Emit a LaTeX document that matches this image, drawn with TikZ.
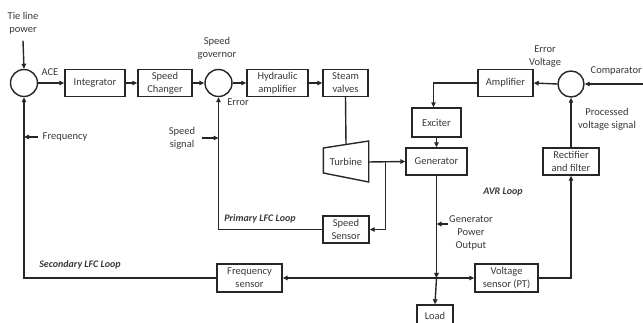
\documentclass[tikz,border=0pt]{standalone}
\usepackage{fontspec}
\setmainfont{Carlito}
\usetikzlibrary{positioning, calc, arrows.meta}

\tikzset{
  block/.style={draw, align=center, minimum height=27pt, inner sep=1pt},
  sumnode/.style={draw, circle, minimum size=27pt, inner sep=0pt},
  lbl/.style={align=center, inner sep=1pt},
  looplbl/.style={font=\bfseries\itshape, inner sep=1pt},
  >={Triangle[length=5pt,width=4.5pt]},
}

\begin{document}
\begin{tikzpicture}[x=1pt, y=-1pt, line width=1.4pt, draw=black!85, text=black!78,
    font=\fontsize{10.5}{13}\selectfont]
        \useasboundingbox (0,0) rectangle (643,323);

        % ==========================================
        % Secondary LFC chain (top row)
        % ==========================================
        \node[sumnode] (sum1) at (24,83) {};
        \node[block, minimum width=60pt] (integ) at (95,83) {Integrator};
        \node[block, minimum width=54pt] (spdch) at (165,83) {Speed\\Changer};
        \node[sumnode] (sum2) at (218.5,83) {};
        \node[block, minimum width=61pt] (hydamp) at (277.5,83) {Hydraulic\\amplifier};
        \node[block, minimum width=45pt] (valves) at (345.5,83) {Steam\\valves};

        \node[lbl] (tie) at (23,23) {Tie line\\power};
        \node[lbl] (ace) at (50,72) {ACE};
        \node[lbl] (gov) at (217,48) {Speed\\governor};
        \node[lbl] (err) at (238,102) {Error};

        \draw[->] (tie.south) ++(0,5) coordinate (tiein) -- (sum1.north);
        \draw[->] (sum1.east) -- (integ.west);
        \draw[->] (integ.east) -- (spdch.west);
        \draw[->] (spdch.east) -- (sum2.west);
        \draw[->] (sum2.east) -- (hydamp.west);
        \draw[->] (hydamp.east) -- (valves.west);

        % ==========================================
        % Turbine, Generator and Primary LFC Loop
        % ==========================================
        \node[lbl, minimum width=44pt, minimum height=34pt] (turb) at (346,162) {Turbine};
        \coordinate (tb1) at ($(turb.west)+(0,-14)$);
        \coordinate (tb2) at ($(turb.east)+(0,-21)$);
        \coordinate (tb3) at ($(turb.east)+(0,20)$);
        \coordinate (tb4) at ($(turb.west)+(0,11)$);
        \draw (tb1) -- (tb2) -- (tb3) -- (tb4) -- cycle;
        \draw (valves.south) -- ($(tb1)!0.5!(tb2)$);

        \node[block, minimum width=61pt] (gen) at (436.5,161.5) {Generator};
        \node[block, minimum width=46pt] (spdsen) at (346,229.5) {Speed\\Sensor};

        \draw[->] (turb.east) -- (gen.west);
        \coordinate (tj) at ($(turb.east)+(17,0)$);
        \draw[->] (tj) |- (spdsen.east);
        \draw[->] (spdsen.west) -| (sum2.south);

        \node[looplbl] (prim) at (260,219) {Primary LFC Loop};
        \node[lbl] (spdsig) at (182,138) {Speed\\signal};
        \draw[->] ($(spdsig.east)+(5,0)$) -- (spdsig.east -| sum2.south);

        % ==========================================
        % AVR Loop
        % ==========================================
        \node[block, minimum width=49pt, minimum height=29pt] (exc) at (436.5,122.5) {Exciter};
        \node[block, minimum width=55pt] (amp) at (505.5,83) {Amplifier};
        \node[sumnode, minimum size=26pt] (sum3) at (571,84) {};
        \node[block, minimum width=56pt] (rect) at (571,161.5) {Rectifier\\and filter};

        \coordinate (cin) at (643,84);
        \node[lbl, anchor=west] (comp) at (589,71) {Comparator};
        \node[lbl] (errv) at (545,57) {Error\\Voltage};
        \node[lbl] (proc) at (607,119) {Processed\\voltage signal};
        \node[looplbl] (avr) at (503,192) {AVR Loop};

        \draw[->] (cin) -- (sum3.east);
        \draw[->] (sum3.west) -- (amp.east);
        \draw[->] (amp.west) -| ([xshift=-3pt]exc.north);
        \draw[->] (exc.south) -- (gen.north);
        \draw[->] (rect.north) -- (sum3.south);

        % ==========================================
        % Sensors and Load
        % ==========================================
        \node[block, minimum width=65pt, minimum height=28pt] (freqsen) at (249.5,278) {Frequency\\sensor};
        \node[block, minimum width=63pt, minimum height=28pt] (vsen) at (506.5,278) {Voltage\\sensor (PT)};
        \node[block, minimum width=36pt, minimum height=22pt] (load) at (435,316) {Load};

        \coordinate (gj) at (gen.south |- freqsen.east);
        \draw[->] (gen.south) -- (gj);
        \draw[->] (gj) -- (load.north);
        \draw[->] (gj) -- (freqsen.east);
        \draw[->] (gj) -- (vsen.west);
        \draw[->] (vsen.east) -| (rect.south);
        \draw[->] (freqsen.west) -| (sum1.south);

        \node[lbl] (gpo) at (471,233) {Generator\\Power\\Output};
        \draw[->] ([yshift=-10pt]gpo.north west) -- ([yshift=-10pt]gpo.north west -| gen.south);

        \node[lbl] (freq) at (65,137) {Frequency};
        \draw[->] ([xshift=-3pt]freq.west) -- (freq.west -| sum1.south);

        \node[looplbl] (sec) at (80,265) {Secondary LFC Loop};

    \end{tikzpicture}
\end{document}
